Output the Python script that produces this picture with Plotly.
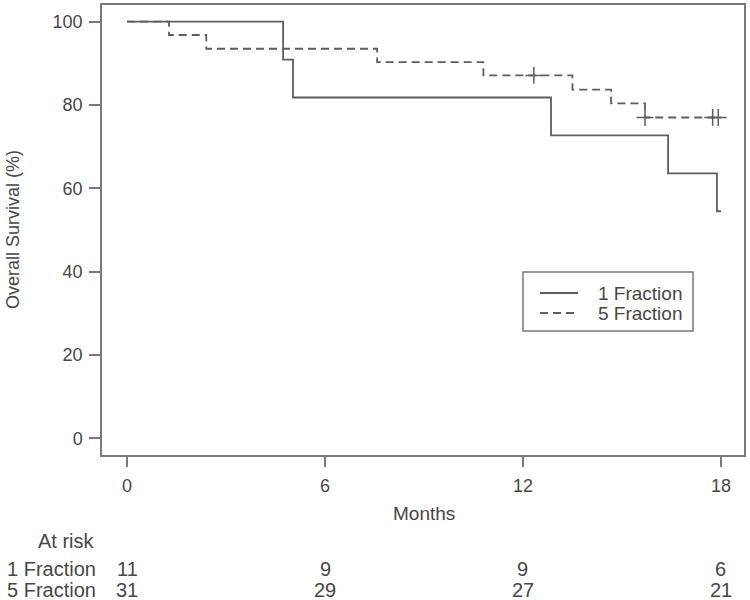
import plotly.graph_objects as go

# ---- data ----
months_1f = [0, 4.73, 5.03, 12.85, 16.4, 17.88, 18.0]
surv_1f = [100, 90.9, 81.8, 72.7, 63.6, 54.5, 54.5]

months_5f = [0, 1.27, 2.4, 7.58, 10.8, 13.5, 14.67, 15.7, 18.0]
surv_5f = [100, 96.8, 93.5, 90.3, 87.1, 83.7, 80.4, 77.0, 77.0]

cens_5f_t = [12.33, 15.7, 17.75, 17.92]
cens_5f_s = [87.1, 77.0, 77.0, 77.0]

risk_times = [0, 6, 12, 18]
risk_1f = [11, 9, 9, 6]
risk_5f = [31, 29, 27, 21]
group_names = ["1 Fraction", "5 Fraction"]

x_ticks = [0, 6, 12, 18]
y_ticks = [0, 20, 40, 60, 80, 100]

LINE = "#5e5e5e"
TXT = "#474747"
AX = "#7a7a7a"
FONT = "Liberation Sans, Arial, sans-serif"
FS = 19
RFS = 20
TFS = 18
DASH = "8px,5px"

# plot area in pixels: x 102..744, y 5..455
def px(xp):
    return (xp - 102) / 642.0

def py(yp):
    return (455 - yp) / 450.0

def txt(text, x, y, xref="paper", xanchor="center", size=FS, **kw):
    d = dict(x=x, y=y, xref=xref, yref="paper", text=text, showarrow=False,
             xanchor=xanchor, yanchor="middle",
             font=dict(size=size, color=TXT, family=FONT))
    d.update(kw)
    return d

fig = go.Figure()
fig.add_trace(go.Scatter(x=months_1f, y=surv_1f, mode="lines", line_shape="hv",
                         line=dict(color=LINE, width=1.8), name=group_names[0],
                         showlegend=False))
fig.add_trace(go.Scatter(x=months_5f, y=surv_5f, mode="lines", line_shape="hv",
                         line=dict(color=LINE, width=1.8, dash=DASH), name=group_names[1],
                         showlegend=False))
fig.add_trace(go.Scatter(x=cens_5f_t, y=cens_5f_s, mode="markers", showlegend=False,
                         marker=dict(symbol="cross-thin", size=12,
                                     line=dict(color=LINE, width=1.5))))

annotations = []
annotations.append(txt("Months", 9, py(513), xref="x"))
annotations.append(txt("Overall Survival (%)", px(13), 0.5, size=FS - 1, textangle=-90))
annotations.append(txt("At risk", px(97), py(541), xanchor="right", size=RFS))
for name, vals, yy in [(group_names[0], risk_1f, py(569)), (group_names[1], risk_5f, py(590))]:
    annotations.append(txt(name, px(98), yy, xanchor="right", size=RFS))
    for t, v in zip(risk_times, vals):
        annotations.append(txt(str(v), t, yy, xref="x", size=RFS))

# legend (drawn manually to match the boxed legend)
shapes = [dict(type="rect", xref="paper", yref="paper",
               x0=px(523), x1=px(693), y0=py(331), y1=py(272),
               line=dict(color=AX, width=1.5), fillcolor="white", layer="above")]
for name, dash, yl in [(group_names[0], "solid", 293), (group_names[1], DASH, 313)]:
    shapes.append(dict(type="line", xref="paper", yref="paper",
                       x0=px(540), x1=px(578), y0=py(yl), y1=py(yl),
                       line=dict(color=LINE, width=1.8, dash=dash), layer="above"))
    annotations.append(txt(name, px(596), py(yl), xanchor="left"))

fig.update_layout(
    width=750, height=600,
    margin=dict(l=102, r=6, t=5, b=145, autoexpand=False),
    paper_bgcolor="white", plot_bgcolor="white",
    font=dict(family=FONT, size=TFS, color=TXT),
    showlegend=False,
    annotations=annotations,
    shapes=shapes,
)
fig.update_xaxes(range=[-0.76, 18.7], tickvals=x_ticks, showgrid=False, zeroline=False,
                 showline=True, mirror=True, linecolor=AX, linewidth=1.5,
                 ticks="outside", ticklen=10, tickcolor=AX, tickwidth=1.5,
                 tickfont=dict(size=TFS, color=TXT), ticklabelstandoff=4)
fig.update_yaxes(range=[-4, 104], tickvals=y_ticks, showgrid=False, zeroline=False,
                 showline=True, mirror=True, linecolor=AX, linewidth=1.5,
                 ticks="outside", ticklen=11, tickcolor=AX, tickwidth=1.5,
                 tickfont=dict(size=TFS, color=TXT), ticklabelstandoff=3)

fig.write_html("out.html", config={"displayModeBar": False},
               post_script="document.body.style.margin='0px';")
